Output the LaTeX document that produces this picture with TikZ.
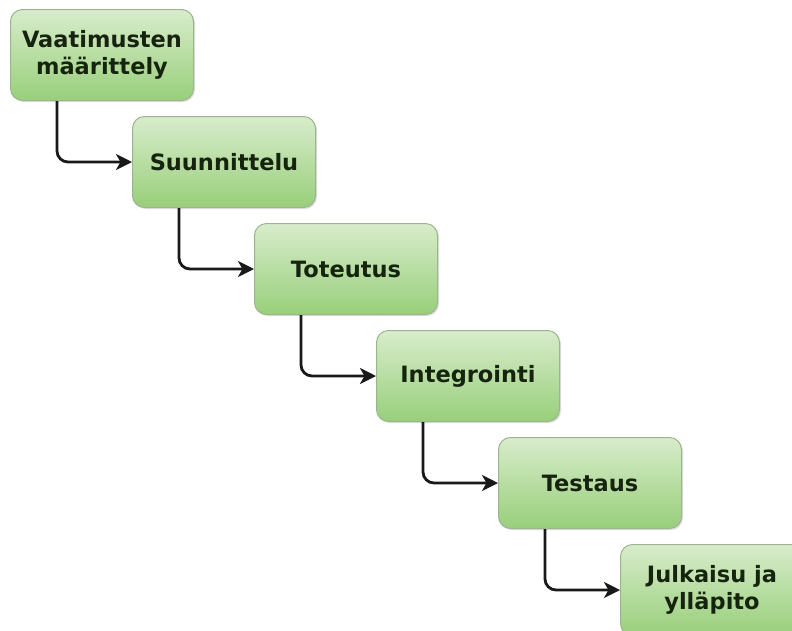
\documentclass[tikz,border=0pt]{standalone}
\usepackage{fontspec}
\setmainfont{DejaVu Sans}
\usetikzlibrary{arrows.meta,shadows}
\definecolor{boxtop}{HTML}{D8ECCB}
\definecolor{boxbot}{HTML}{98CF7A}
\definecolor{boxline}{HTML}{9DB58F}
\definecolor{txt}{HTML}{16240F}
\tikzset{
  phase/.style={rectangle, rounded corners=12pt, draw=boxline, line width=1pt,
    top color=boxtop, bottom color=boxbot, minimum width=183pt, minimum height=91pt,
    anchor=north west, align=center, text=txt, font=\fontsize{22.5}{27}\selectfont\bfseries,
    inner sep=2pt, drop shadow={shadow xshift=1.5pt, shadow yshift=-1.5pt, fill=black!25, opacity=0.5}},
  flow/.style={draw=black!90, line width=2.8pt, rounded corners=11pt,
    -{Stealth[length=16pt,width=16pt,inset=4.5pt]}}
}
\begin{document}
\begin{tikzpicture}[x=1pt,y=-1pt]
\useasboundingbox[fill=white] (0,0) rectangle (792,630);
\node[phase] (b1) at (10,9) {Vaatimusten\\määrittely};
\node[phase] (b2) at (132,116) {Suunnittelu};
\node[phase] (b3) at (254,223) {Toteutus};
\node[phase] (b4) at (376,330) {Integrointi};
\node[phase] (b5) at (498,437) {Testaus};
\node[phase] (b6) at (620,544) {Julkaisu ja\\ylläpito};
\draw[flow] ([xshift=47pt]b1.south west) |- (b2.west);
\draw[flow] ([xshift=47pt]b2.south west) |- (b3.west);
\draw[flow] ([xshift=47pt]b3.south west) |- (b4.west);
\draw[flow] ([xshift=47pt]b4.south west) |- (b5.west);
\draw[flow] ([xshift=47pt]b5.south west) |- (b6.west);
\end{tikzpicture}
\end{document}
